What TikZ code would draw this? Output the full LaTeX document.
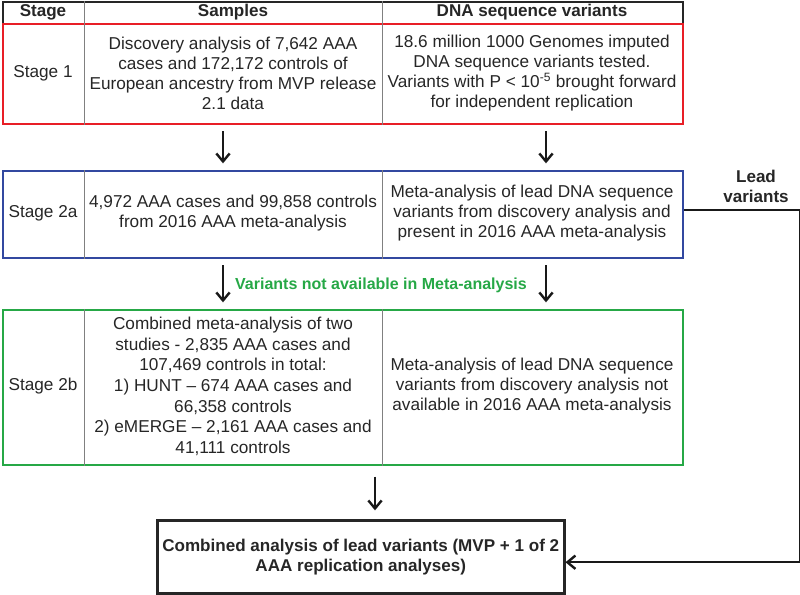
\documentclass[tikz,border=0pt]{standalone}
\usepackage{fontspec}
\setmainfont{Liberation Sans}
\usetikzlibrary{arrows.meta,positioning}
\definecolor{stagered}{RGB}{232,30,38}
\definecolor{stageblue}{RGB}{50,72,160}
\definecolor{stagegreen}{RGB}{38,168,70}
\tikzset{
  rowbox/.style={draw, line width=1.5pt, minimum width=510pt, anchor=north west, inner sep=0pt},
  cell/.style={align=center, inner sep=0pt, font=\fontsize{12.9}{15}\selectfont, text=black!85},
  head/.style={cell, font=\fontsize{12.8}{15}\selectfont\bfseries},
  divider/.style={draw=black!50, line width=0.7pt},
  arr/.style={-{Straight Barb[length=6pt,width=10pt]}, line width=1.8pt, black!90, shorten <=4.5pt, shorten >=5pt},
  lead/.style={-{Straight Barb[length=6pt,width=10pt]}, line width=1.8pt, black!90},
}
\begin{document}
\begin{tikzpicture}[x=0.75pt,y=-0.75pt]
    \useasboundingbox (0,0) rectangle (800,594);
    %% Rows
    \node[rowbox, draw=black!85, minimum height=16.5pt] (hdr) at (2,1) {};
    \node[rowbox, draw=stagered,   minimum height=75pt]    (s1)  at (2,23) {};
    \node[rowbox, draw=stageblue,  minimum height=65.25pt] (s2a) at (2,170) {};
    \node[rowbox, draw=stagegreen, minimum height=116.25pt](s2b) at (2,309) {};
    \node[rowbox, draw=black!85, line width=1.9pt, minimum width=305.25pt, minimum height=54.75pt] (fin) at (156,519) {};
    %% Column lines
    \foreach \r in {hdr,s1,s2a,s2b}{
        \draw[divider] (\r.north -| 84,0) -- (\r.south -| 84,0);
        \draw[divider] (\r.north -| 382,0) -- (\r.south -| 382,0);
    }
    %% Header
    \node[head] (hstage) at (43,12) {Stage};
    \node[head] (hsmp)   at (233,12) {Samples};
    \node[head] (hvar)   at (532,12) {DNA sequence variants};
    %% Stage 1
    \node[cell] (s1stage) at (43,73) {Stage 1};
    \node[cell] (s1smp)   at (233,73) {Discovery analysis of 7,642 AAA\\cases and 172,172 controls of\\European ancestry from MVP release\\2.1 data};
    \node[cell] (s1var)   at (532,73) {18.6 million 1000 Genomes imputed\\DNA sequence variants tested.\\Variants with P < 10\textsuperscript{-5} brought forward\\for independent replication};
    %% Stage 2a
    \node[cell] (s2astage) at (43,213.5) {Stage 2a};
    \node[cell] (s2asmp)   at (233,213.5) {4,972 AAA cases and 99,858 controls\\from 2016 AAA meta-analysis};
    \node[cell] (s2avar)   at (532,213.5) {Meta-analysis of lead DNA sequence\\variants from discovery analysis and\\present in 2016 AAA meta-analysis};
    %% Stage 2b
    \node[cell] (s2bstage) at (43,386.5) {Stage 2b};
    \node[cell, font=\fontsize{12.9}{15.5}\selectfont] (s2bsmp) at (233,386.5) {Combined meta-analysis of two\\studies - 2,835 AAA cases and\\107,469 controls in total:\\1) HUNT -- 674 AAA cases and\\66,358 controls\\2) eMERGE -- 2,161 AAA cases and\\41,111 controls};
    \node[cell] (s2bvar)   at (532,386.5) {Meta-analysis of lead DNA sequence\\variants from discovery analysis not\\available in 2016 AAA meta-analysis};
    %% Final
    \node[head] (finlbl) at (fin.center) {Combined analysis of lead variants (MVP + 1 of 2\\AAA replication analyses)};
    %% Side labels
    \node[head, font=\fontsize{12}{15}\selectfont\bfseries, text=stagegreen] (navail) at (381,285) {Variants not available in Meta-analysis};
    \node[head] (leadlbl) at (756,186) {Lead\\variants};
    %% Arrows
    \draw[arr] (s1.south -| 223,0) -- (s2a.north -| 223,0);
    \draw[arr] (s1.south -| 546,0) -- (s2a.north -| 546,0);
    \draw[arr] (s2a.south -| 223,0) -- (s2b.north -| 223,0);
    \draw[arr] (s2a.south -| 546,0) -- (s2b.north -| 546,0);
    \draw[arr, shorten <=8pt, shorten >=6.5pt] (s2b.south -| 375,0) -- (fin.north -| 375,0);
    \draw[lead] ([yshift=3.4pt]s2a.east) -- ++(116,0) |- ([yshift=-4.1pt]fin.east);
\end{tikzpicture}
\end{document}
